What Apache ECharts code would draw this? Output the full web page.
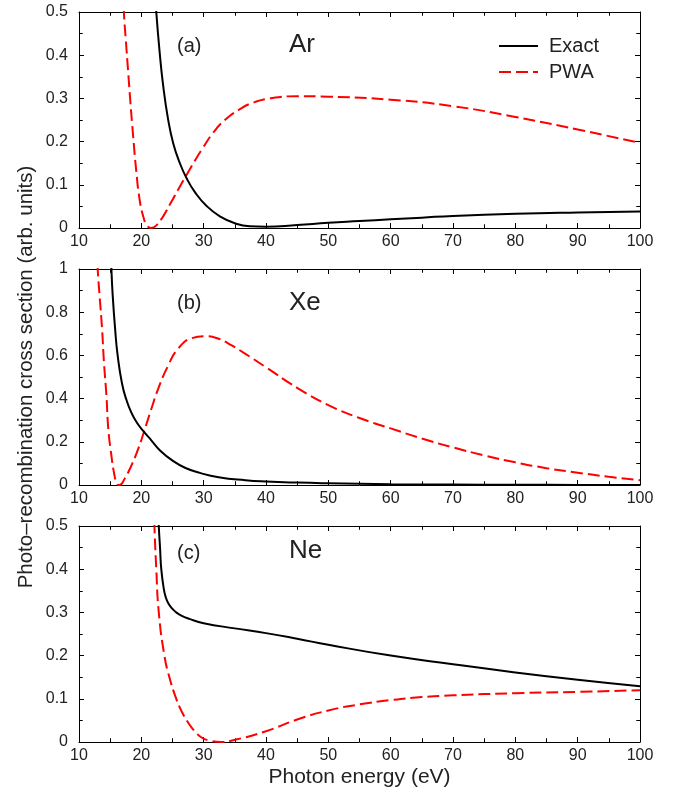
<!DOCTYPE html>
<html>
<head>
<meta charset="utf-8">
<script src="https://cdn.jsdelivr.net/npm/echarts@6/dist/echarts.min.js"></script>
<style>html,body{margin:0;padding:0;background:#fff}#c{width:673px;height:795px;background:#fff}</style>
</head>
<body>
<div id="c"></div>
<script>
// ---- Data ----
const xTicks = [10, 20, 30, 40, 50, 60, 70, 80, 90, 100];

// Panel (a) Ar
const arExactX = [22.2, 22.4, 22.9, 23.5, 24.3, 25.1, 26.1, 27.3, 28.6, 30.4, 32.6, 35.2, 37.4, 40, 45, 50, 55, 60, 65, 70, 80, 90, 100];
const arExactY = [0.55, 0.5, 0.413, 0.33, 0.251, 0.197, 0.153, 0.114, 0.083, 0.052, 0.027, 0.01, 0.004, 0.003, 0.007, 0.012, 0.016, 0.020, 0.024, 0.028, 0.033, 0.036, 0.038];
const arPwaX = [17.1, 17.2, 17.5, 17.9, 18.2, 18.7, 19.2, 19.7, 20.3, 20.9, 21.6, 22.4, 23.5, 24.8, 26.1, 27.3, 28.6, 29.9, 31.5, 33.4, 35.8, 37.9, 40.6, 45, 50, 60, 70, 80, 90, 100];
const arPwaY = [0.55, 0.5, 0.437, 0.359, 0.30, 0.21, 0.13, 0.068, 0.027, 0.006, 0.0, 0.006, 0.027, 0.060, 0.094, 0.124, 0.156, 0.186, 0.220, 0.250, 0.275, 0.290, 0.300, 0.305, 0.304, 0.297, 0.282, 0.257, 0.228, 0.197];

// Panel (b) Xe
const xeExactX = [15.1, 15.2, 15.4, 15.8, 16.2, 16.9, 17.6, 18.4, 19.3, 20.4, 21.6, 23.0, 25.0, 27.0, 29.4, 32.4, 36.7, 40, 45, 50, 60, 70, 80, 90, 100];
const xeExactY = [1.1, 1.0, 0.88, 0.72, 0.6, 0.47, 0.395, 0.335, 0.288, 0.247, 0.207, 0.16, 0.113, 0.08, 0.056, 0.036, 0.022, 0.016, 0.011, 0.008, 0.004, 0.002, 0.001, 0.0005, 0.0];
const xePwaX = [12.9, 13.0, 13.3, 13.7, 14.0, 14.4, 14.7, 15.2, 15.6, 16.1, 16.5, 17.3, 18.4, 19.5, 20.4, 21.6, 22.7, 24.3, 25.9, 28.1, 30.2, 32.4, 34.5, 36.7, 40, 45, 50, 55, 60, 65, 70, 75, 80, 85, 90, 95, 100];
const xePwaY = [1.1, 1.0, 0.878, 0.723, 0.569, 0.414, 0.260, 0.136, 0.059, 0.005, 0.0, 0.028, 0.090, 0.167, 0.244, 0.352, 0.445, 0.553, 0.631, 0.680, 0.689, 0.677, 0.646, 0.607, 0.545, 0.45, 0.37, 0.31, 0.262, 0.215, 0.174, 0.137, 0.105, 0.078, 0.057, 0.038, 0.022];

// Panel (c) Ne
const neExactX = [22.7, 22.8, 23.0, 23.2, 23.6, 23.9, 24.3, 25.0, 25.6, 26.5, 27.7, 30, 35, 40, 45, 50, 60, 70, 80, 90, 100];
const neExactY = [0.55, 0.5, 0.45, 0.4, 0.355, 0.336, 0.322, 0.308, 0.3, 0.292, 0.285, 0.275, 0.263, 0.252, 0.239, 0.225, 0.200, 0.180, 0.161, 0.144, 0.129];
const nePwaX = [22.0, 22.1, 22.4, 22.8, 23.7, 24.5, 25.6, 26.5, 27.5, 28.5, 29.6, 31.0, 32.8, 35, 40, 45, 50, 55, 60, 65, 70, 80, 90, 100];
const nePwaY = [0.55, 0.5, 0.4, 0.3, 0.2, 0.15, 0.1, 0.07, 0.045, 0.026, 0.011, 0.003, 0.0, 0.005, 0.025, 0.052, 0.073, 0.087, 0.097, 0.104, 0.108, 0.113, 0.116, 0.120];

const panelLabels = ['(a)', '(b)', '(c)'];
const elementNames = ['Ar', 'Xe', 'Ne'];
const yMax = [0.5, 1, 0.5];
const yStep = [0.1, 0.2, 0.1];
const seriesNames = ['Exact', 'PWA'];
const yTitle = 'Photo\u2013recombination cross section (arb. units)';
const xTitle = 'Photon energy (eV)';

// ---- Build chart ----
const FONT = '"Liberation Sans", Arial, Helvetica, sans-serif';
const zip = (xs, ys) => xs.map((x, i) => [x, ys[i]]);
const panels = [
  [zip(arExactX, arExactY), zip(arPwaX, arPwaY)],
  [zip(xeExactX, xeExactY), zip(xePwaX, xePwaY)],
  [zip(neExactX, neExactY), zip(nePwaX, nePwaY)]
];
const gridTops = [12, 269, 526];
const gridH = 216;
const G_LEFT = 79, G_RIGHT = 33, G_W = 673 - 79 - 33;
const MAJOR = 5, MINOR = 3.5;
const labelTop = [31, 288, 538];
const nameTop = [26.7, 284.5, 533];

const grids = [], xAxes = [], yAxes = [], series = [], titles = [];
const mkTick = () => ({ show: true, inside: true, length: MAJOR });
const mkMinor = () => ({ show: true, splitNumber: 2, length: MINOR });
const mkLine = () => ({ show: true, onZero: false, lineStyle: { color: '#000', width: 1 } });
const mkLabel = (m) => ({ show: true, margin: m, color: '#222', fontSize: 16, fontFamily: FONT });
const blackLine = () => ({ color: '#000', width: 1 });

// Thin strips along each frame edge whose axis split lines form the inward tick marks
function addTickStrip(rect, dim, min, max, interval, minor) {
  const g = grids.length;
  grids.push(Object.assign({ show: false }, rect));
  const tickAxis = { type: 'value', gridIndex: g, min: min, max: max, interval: interval,
    axisLine: { show: false }, axisTick: { show: false }, axisLabel: { show: false },
    splitLine: { show: !minor, lineStyle: blackLine() },
    minorTick: { show: minor, splitNumber: 2, length: 0 },
    minorSplitLine: { show: minor, lineStyle: blackLine() }, silent: true };
  const other = { type: 'value', gridIndex: g, min: 0, max: 1, show: false, splitLine: { show: false } };
  if (dim === 'x') { xAxes.push(tickAxis); yAxes.push(other); }
  else { yAxes.push(tickAxis); xAxes.push(other); }
}

panels.forEach((p, i) => {
  grids.push({ left: G_LEFT, right: G_RIGHT, top: gridTops[i], height: gridH, show: false });
  ['bottom', 'top'].forEach((pos) => {
    const ax = { type: 'value', gridIndex: i, position: pos, min: xTicks[0], max: xTicks[xTicks.length - 1], interval: 10,
      axisLine: mkLine(), axisTick: mkTick(), minorTick: mkMinor(),
      splitLine: { show: false }, minorSplitLine: { show: false },
      axisLabel: pos === 'bottom' ? mkLabel(6) : { show: false } };
    if (i === 2 && pos === 'bottom') {
      Object.assign(ax, { name: xTitle, nameLocation: 'middle', nameGap: 24.5, nameMoveOverlap: false,
        nameTextStyle: { color: '#222', fontSize: 21, fontFamily: FONT } });
    }
    xAxes.push(ax);
  });
  ['left', 'right'].forEach((pos) => {
    const ax = { type: 'value', gridIndex: i, position: pos, min: 0, max: yMax[i], interval: yStep[i],
      axisLine: mkLine(), axisTick: mkTick(), minorTick: mkMinor(),
      splitLine: { show: false }, minorSplitLine: { show: false },
      axisLabel: pos === 'left' ? mkLabel(11) : { show: false } };
    if (i === 1 && pos === 'left') {
      Object.assign(ax, { name: yTitle, nameLocation: 'middle', nameRotate: 90, nameGap: 42, nameMoveOverlap: false,
        nameTextStyle: { color: '#222', fontSize: 20.5, fontFamily: FONT } });
    }
    yAxes.push(ax);
  });

  series.push({ name: seriesNames[1], type: 'line', xAxisIndex: 2 * i, yAxisIndex: 2 * i, data: p[1],
    showSymbol: false, symbol: 'none', smooth: 0.5,
    lineStyle: { color: '#ff0000', width: 2, type: [12, 5] }, itemStyle: { color: '#ff0000' } });
  series.push({ name: seriesNames[0], type: 'line', xAxisIndex: 2 * i, yAxisIndex: 2 * i, data: p[0],
    showSymbol: false, symbol: 'none', smooth: 0.5,
    lineStyle: { color: '#000', width: 2, type: 'solid' }, itemStyle: { color: '#000' } });

  titles.push({ text: panelLabels[i], left: 172, top: labelTop[i],
    textStyle: { color: '#222', fontSize: 20, lineHeight: 20, fontWeight: 'normal', fontFamily: FONT } });
  titles.push({ text: elementNames[i], left: 284, top: nameTop[i],
    textStyle: { color: '#222', fontSize: 26, lineHeight: 26, fontWeight: 'normal', fontFamily: FONT } });
});

// tick strips (after the three main grids so that series indices above stay valid)
panels.forEach((p, i) => {
  const T = gridTops[i];
  const xMin = xTicks[0], xMax = xTicks[xTicks.length - 1];
  [[MAJOR, false], [MINOR, true]].forEach(([len, minor]) => {
    addTickStrip({ left: G_LEFT, width: G_W, top: T + gridH - len, height: len }, 'x', xMin, xMax, 10, minor);
    addTickStrip({ left: G_LEFT, width: G_W, top: T, height: len }, 'x', xMin, xMax, 10, minor);
    addTickStrip({ left: G_LEFT, width: len, top: T, height: gridH }, 'y', 0, yMax[i], yStep[i], minor);
    addTickStrip({ left: G_LEFT + G_W - len, width: len, top: T, height: gridH }, 'y', 0, yMax[i], yStep[i], minor);
  });
});

const chart = echarts.init(document.getElementById('c'));
chart.setOption({
  animation: false,
  title: titles,
  grid: grids,
  xAxis: xAxes,
  yAxis: yAxes,
  series: series,
  legend: {
    data: seriesNames, orient: 'vertical', left: 493, top: 31, padding: 5,
    itemWidth: 39, itemHeight: 14, itemGap: 6,
    itemStyle: { opacity: 0, color: 'transparent', borderWidth: 0 },
    textStyle: { color: '#222', fontSize: 20, lineHeight: 20, fontFamily: FONT, padding: [0, 0, 0, 6] },
    selectedMode: false
  }
});
</script>
</body>
</html>
